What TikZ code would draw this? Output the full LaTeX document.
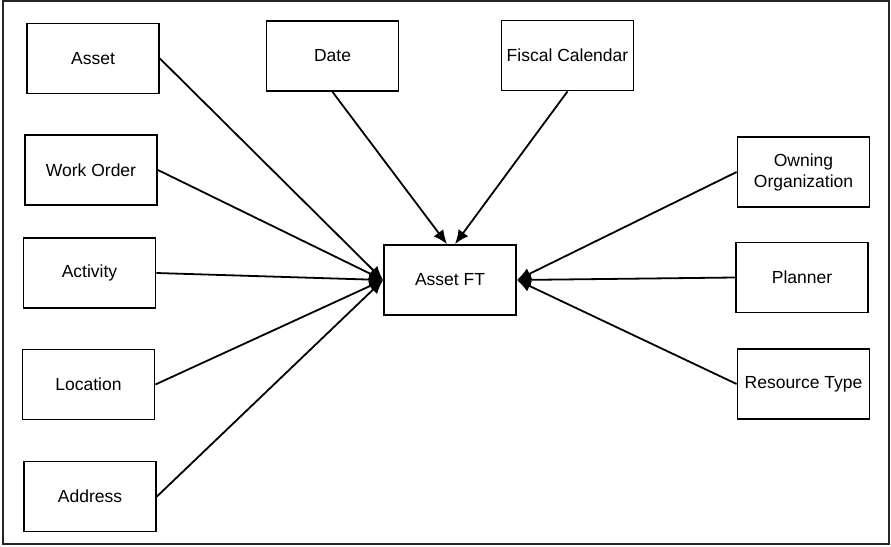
\documentclass[tikz,border=0pt]{standalone}
\usepackage{fontspec}
\setmainfont{Liberation Sans}
\usetikzlibrary{arrows.meta}
\newcommand{\tablebox}[4]{\node[tbl] (#1) at (#2,#3) {#4};}
\newcommand{\linkFT}[2]{\draw[fk] (#1) -- (#2);}

\begin{document}
\begin{tikzpicture}[x=1pt,y=-1pt,
    tbl/.style={draw,line width=1.8pt,minimum width=132pt,minimum height=70pt,
      inner sep=1pt,align=center,font=\fontsize{17.5}{21}\selectfont},
    fk/.style={line width=1.8pt,-{Latex[length=14pt,width=12pt]}}]
    \useasboundingbox (0,0) rectangle (891,546);
    \draw[line width=1.8pt,black!85] (3,1) rectangle (889,544);
    % dimension tables, left column
    \tablebox{Asset}{93}{58.5}{Asset}
    \tablebox{WorkOrder}{91}{170}{Work Order}
    \tablebox{Activity}{89.5}{273}{Activity}
    \tablebox{Location}{88.5}{384.5}{Location}
    \tablebox{Address}{90}{496.5}{Address}
    % top row
    \tablebox{Date}{332.5}{56}{Date}
    \tablebox{Fiscal}{567.5}{55.5}{Fiscal Calendar}
    % right column
    \tablebox{Owning}{803.5}{172}{Owning\\Organization}
    \tablebox{Planner}{802}{277.5}{Planner}
    \tablebox{Resource}{803.5}{384}{Resource Type}
    % fact table
    \tablebox{AssetFT}{450}{280}{Asset FT}
    \linkFT{Asset.east}{AssetFT.west}
    \linkFT{WorkOrder.east}{AssetFT.west}
    \linkFT{Activity.east}{AssetFT.west}
    \linkFT{Location.east}{AssetFT.west}
    \linkFT{Address.east}{AssetFT.west}
    \linkFT{Date.south}{[xshift=-3pt]AssetFT.north}
    \linkFT{Fiscal.south}{[xshift=5pt]AssetFT.north}
    \linkFT{Owning.west}{AssetFT.east}
    \linkFT{Planner.west}{AssetFT.east}
    \linkFT{Resource.west}{AssetFT.east}
\end{tikzpicture}
\end{document}
